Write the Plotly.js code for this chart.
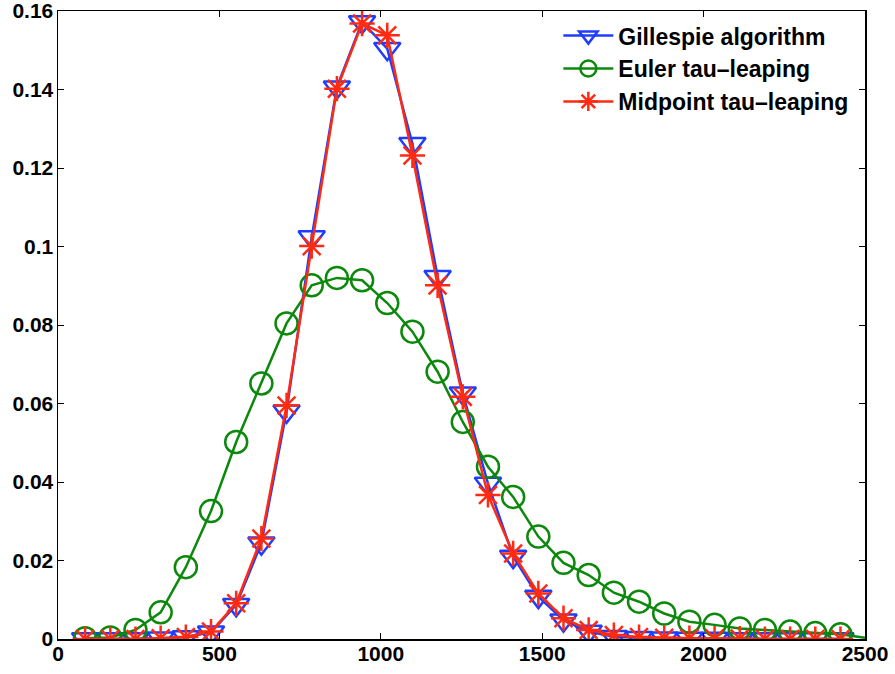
<!DOCTYPE html>
<html>
<head>
<meta charset="utf-8">
<script src="https://cdn.plot.ly/plotly-3.0.1.min.js"></script>
<style>html,body{margin:0;padding:0;background:#fff;}#chart{width:895px;height:674px;}</style>
</head>
<body>
<div id="chart"></div>
<script>
// Bin centres (x) shared by all series
const xValues = [84,162,240,318,396,474,552,630,708,786,864,942,1020,1098,1176,1254,1332,1410,1488,1566,1644,1722,1800,1878,1956,2034,2112,2190,2268,2346,2424];
const gillespie = [0,0,0,0.0002,0.0005,0.0017,0.0087,0.0244,0.058,0.1024,0.1406,0.1572,0.1504,0.1262,0.0923,0.0626,0.0396,0.021,0.0108,0.0048,0.0019,0.0006,0.0003,0.0002,0.0001,0.0001,0,0,0,0,0];
const euler = [0.0002,0.0004,0.0023,0.0068,0.0183,0.0326,0.0502,0.0651,0.0804,0.0901,0.092,0.0914,0.0856,0.0783,0.0681,0.0553,0.0439,0.0362,0.0261,0.0194,0.0163,0.0118,0.0095,0.0065,0.0044,0.0036,0.0027,0.0023,0.0019,0.0015,0.0012];
const eulerTailX = [2424,2500];
const eulerTailY = [0.0012,0.0003];
const midpoint = [0,0,0,0.0002,0.0005,0.0019,0.0091,0.0256,0.0595,0.1001,0.1402,0.1568,0.1538,0.1232,0.0901,0.0617,0.0367,0.0218,0.0116,0.0053,0.0023,0.001,0.0005,0.0003,0.0002,0.0001,0.0001,0,0,0,0];
const seriesNames = ['Gillespie algorithm','Euler tau\u2013leaping','Midpoint tau\u2013leaping'];
const xTicks = [0,500,1000,1500,2000,2500];
const yTicks = [0,0.02,0.04,0.06,0.08,0.1,0.12,0.14,0.16];

const BLUE = '#1f3dff', GREEN = '#0c880c', RED = '#ff2a12';
const TICKFONT = {family:'Liberation Sans, Arial, Helvetica, sans-serif', size:21, color:'#000', weight:700};
const LEGFONT = {family:'Liberation Sans, Arial, Helvetica, sans-serif', size:23, color:'#000', weight:700};

const traces = [
  {x:xValues, y:gillespie, name:seriesNames[0], mode:'lines+markers', legendgroup:'g1',
   line:{color:BLUE, width:2.5},
   marker:{symbol:'triangle-down-open', size:23, color:BLUE, line:{width:2.5, color:BLUE}}},
  {x:eulerTailX, y:eulerTailY, mode:'lines', showlegend:false, hoverinfo:'skip',
   line:{color:GREEN, width:2.5}},
  {x:xValues, y:euler, name:seriesNames[1], mode:'lines+markers', legendgroup:'g2',
   line:{color:GREEN, width:2.5},
   marker:{symbol:'circle-open', size:22, color:GREEN, line:{width:2.5, color:GREEN}}},
  {x:xValues, y:midpoint, name:seriesNames[2], mode:'lines+markers', legendgroup:'g3',
   line:{color:RED, width:2.5},
   marker:{symbol:'asterisk-open', size:21, color:RED, line:{width:2.5, color:RED}}}
];

const axisCommon = {
  showline:true, linecolor:'#000', linewidth:1.5, mirror:'ticks',
  ticks:'inside', ticklen:6, tickwidth:1, tickcolor:'#000',
  showgrid:false, zeroline:false, tickfont:TICKFONT, fixedrange:true,
  ticklabeloverflow:'allow'
};

const layout = {
  width:895, height:674,
  margin:{l:58, r:30, t:11, b:35},
  paper_bgcolor:'#fff', plot_bgcolor:'#fff',
  font:TICKFONT,
  showlegend:true,
  legend:{x:0.62, y:0.995, xanchor:'left', yanchor:'top', bgcolor:'rgba(255,255,255,0)',
          borderwidth:0, font:LEGFONT, tracegroupgap:0, itemwidth:50},
  xaxis:Object.assign({}, axisCommon, {range:[0,2500], tickvals:xTicks, ticktext:xTicks.map(String), ticklabelstandoff:-5}),
  yaxis:Object.assign({}, axisCommon, {range:[0,0.16], tickvals:yTicks, ticktext:yTicks.map(String), ticklabelstandoff:-1})
};

Plotly.newPlot('chart', traces, layout, {displayModeBar:false, staticPlot:true});
</script>
</body>
</html>
